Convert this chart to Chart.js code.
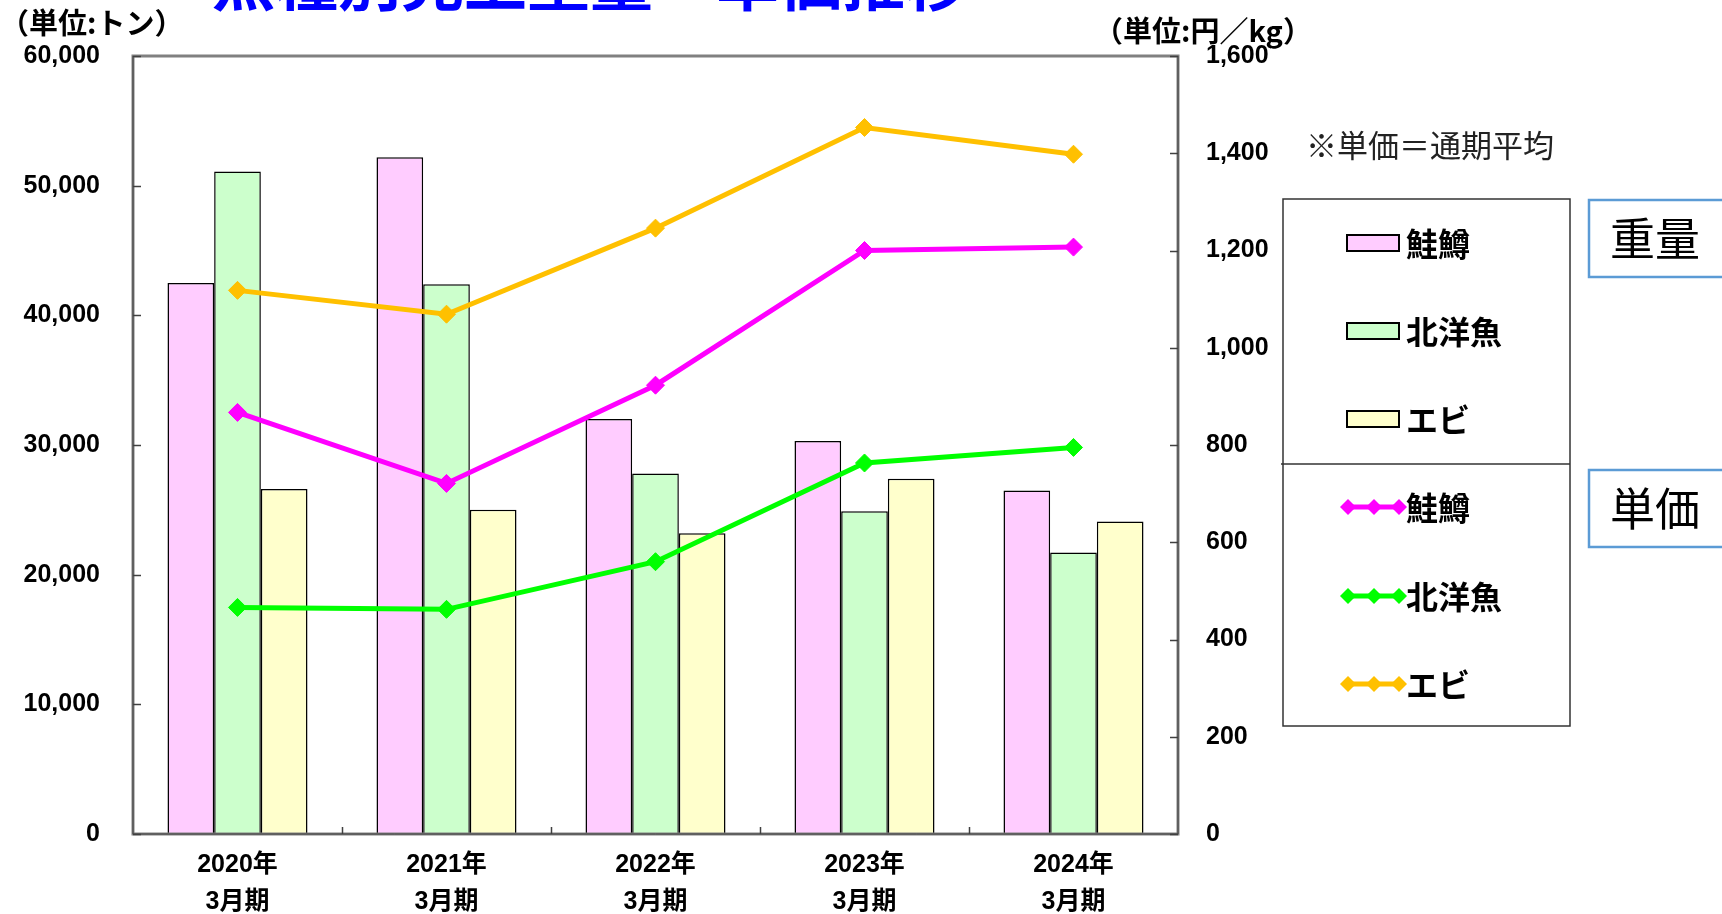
<!DOCTYPE html>
<html>
<head>
<meta charset="utf-8">
<script src="https://cdn.jsdelivr.net/npm/chart.js@4"></script>
<style>
html,body{margin:0;padding:0;background:#fff;}
#wrap{position:relative;width:1722px;height:914px;overflow:hidden;}
canvas{display:block;}
</style>
</head>
<body>
<div id="wrap"><canvas id="c" width="1722" height="914"></canvas></div>
<script>
// ---- data ----
const categories = [['2020年','3月期'],['2021年','3月期'],['2022年','3月期'],['2023年','3月期'],['2024年','3月期']];
const seriesNames = ['鮭鱒','北洋魚','エビ'];
const weightSalmon = [42500, 52200, 32000, 30300, 26500];
const weightNorth  = [51100, 42400, 27800, 24900, 21700];
const weightShrimp = [26600, 25000, 23200, 27400, 24100];
const priceSalmon = [867, 721, 923, 1200, 1207];
const priceNorth  = [466, 462, 560, 763, 795];
const priceShrimp = [1118, 1069, 1246, 1453, 1398];
const weightTicks = [0, 10000, 20000, 30000, 40000, 50000, 60000];
const priceTicks = [0, 200, 400, 600, 800, 1000, 1200, 1400, 1600];
const titleText = '魚種別売上重量・単価推移';
const leftUnit = '（単位:トン）';
const rightUnit = '（単位:円／kg）';
const noteText = '※単価＝通期平均';
const groupLabels = ['重量', '単価'];

const barColors = ['#FFCCFF', '#CCFFCC', '#FFFFCC'];
const lineColors = ['#FF00FF', '#00FF00', '#FFC000'];
const NUMFONT = '"Liberation Sans", "Noto Sans CJK JP", sans-serif';
const JPFONT = '"Noto Sans CJK JP", sans-serif';

const weights = [weightSalmon, weightNorth, weightShrimp];
const prices = [priceSalmon, priceNorth, priceShrimp];

const datasets = [];
weights.forEach((w, i) => datasets.push({
  type: 'bar', label: seriesNames[i], data: w, yAxisID: 'y',
  backgroundColor: barColors[i], borderColor: '#000', borderWidth: 1.5,
  barPercentage: 1.0, categoryPercentage: 0.67, order: 2
}));
prices.forEach((p, i) => datasets.push({
  type: 'line', label: seriesNames[i], data: p, yAxisID: 'y1',
  borderColor: lineColors[i], backgroundColor: lineColors[i], borderWidth: 5,
  pointStyle: 'rectRot', pointRadius: 9, pointBorderWidth: 1,
  pointBackgroundColor: lineColors[i], pointBorderColor: lineColors[i],
  tension: 0, fill: false, order: 1
}));

const fmt = v => Number(v).toLocaleString('en-US');

const decor = {
  id: 'decor',
  afterDatasetsDraw(chart) {
    const ctx = chart.ctx, a = chart.chartArea;
    const y = chart.scales.y, y1 = chart.scales.y1;
    ctx.save();
    ctx.strokeStyle = '#808080'; ctx.lineWidth = 3;
    ctx.strokeRect(a.left, a.top, a.right - a.left, a.bottom - a.top);
    ctx.strokeStyle = '#404040'; ctx.lineWidth = 1;
    ctx.beginPath();
    ctx.moveTo(a.left, a.top); ctx.lineTo(a.left, a.bottom); ctx.lineTo(a.right, a.bottom); ctx.lineTo(a.right, a.top);
    ctx.stroke();
    ctx.strokeStyle = '#404040'; ctx.lineWidth = 1.5;
    ctx.beginPath();
    weightTicks.forEach(v => { const py = Math.round(y.getPixelForValue(v)) + 0.5; ctx.moveTo(a.left, py); ctx.lineTo(a.left + 8, py); });
    priceTicks.forEach(v => { const py = Math.round(y1.getPixelForValue(v)) + 0.5; ctx.moveTo(a.right, py); ctx.lineTo(a.right - 8, py); });
    const n = categories.length, cw = (a.right - a.left) / n;
    for (let i = 1; i < n; i++) { const px = Math.round(a.left + i * cw) + 0.5; ctx.moveTo(px, a.bottom); ctx.lineTo(px, a.bottom - 7); }
    ctx.stroke();
    ctx.restore();
  },
  afterDraw(chart) {
    const ctx = chart.ctx;
    ctx.save();
    ctx.fillStyle = '#0000FF';
    ctx.font = 'bold 63px ' + JPFONT;
    ctx.textBaseline = 'alphabetic'; ctx.textAlign = 'left';
    ctx.fillText(titleText, 212, 5);
    ctx.fillStyle = '#000';
    ctx.font = 'bold 29px ' + JPFONT;
    ctx.textBaseline = 'middle';
    ctx.fillText(leftUnit, 0, 23);
    ctx.fillText(rightUnit, 1094, 31);
    ctx.font = '31px ' + JPFONT;
    ctx.fillStyle = '#222';
    ctx.fillText(noteText, 1306, 145);
    const L = 1283, R = 1570, T = 199, B = 726, D = 464;
    ctx.strokeStyle = '#333'; ctx.lineWidth = 1.5;
    ctx.strokeRect(L, T, R - L, B - T);
    ctx.beginPath(); ctx.moveTo(L - 2, D); ctx.lineTo(R, D); ctx.stroke();
    const ds = chart.data.datasets;
    const rowsY = [243, 331, 419, 507, 596, 684];
    ctx.font = 'bold 32px ' + JPFONT;
    ctx.textBaseline = 'middle';
    ds.forEach((d, i) => {
      const cy = rowsY[i];
      if (d.type === 'bar') {
        ctx.fillStyle = d.backgroundColor; ctx.fillRect(1347, cy - 8, 52, 16);
        ctx.strokeStyle = '#000'; ctx.lineWidth = 2; ctx.strokeRect(1347, cy - 8, 52, 16);
      } else {
        ctx.strokeStyle = d.borderColor; ctx.lineWidth = 5;
        ctx.beginPath(); ctx.moveTo(1347, cy); ctx.lineTo(1400, cy); ctx.stroke();
        ctx.fillStyle = d.borderColor;
        [1348, 1374, 1399].forEach(px => {
          ctx.beginPath(); ctx.moveTo(px - 8, cy); ctx.lineTo(px, cy - 8); ctx.lineTo(px + 8, cy); ctx.lineTo(px, cy + 8); ctx.closePath(); ctx.fill();
        });
      }
      ctx.fillStyle = '#000';
      ctx.fillText(d.label, 1406, cy + 1);
    });
    ctx.strokeStyle = '#5B9BD5'; ctx.lineWidth = 2.5;
    ctx.strokeRect(1589, 200, 160, 77);
    ctx.strokeRect(1589, 470, 160, 77);
    ctx.fillStyle = '#000';
    ctx.font = '400 45px ' + JPFONT;
    ctx.fillText(groupLabels[0], 1610, 239);
    ctx.fillText(groupLabels[1], 1610, 509);
    ctx.restore();
  }
};

new Chart(document.getElementById('c'), {
  data: { labels: categories, datasets },
  options: {
    responsive: false, animation: false,
    layout: { padding: { left: 0, right: 0, top: 56, bottom: 0 } },
    plugins: { legend: { display: false }, title: { display: false }, tooltip: { enabled: false } },
    scales: {
      x: {
        grid: { display: false, drawTicks: false }, border: { display: false },
        ticks: { color: '#000', padding: 13, font: { family: NUMFONT, size: 25, weight: 'bold', lineHeight: '37px' }, maxRotation: 0 },
        afterFit(s) { s.height = 80; }
      },
      y: {
        position: 'left', min: 0, max: 60000,
        grid: { display: false, drawTicks: false }, border: { display: false },
        afterBuildTicks(s) { s.ticks = weightTicks.map(v => ({ value: v })); },
        ticks: { color: '#000', padding: 33, callback: v => fmt(v), font: { family: NUMFONT, size: 25, weight: 'bold' } },
        afterFit(s) { s.width = 133; }
      },
      y1: {
        position: 'right', min: 0, max: 1600,
        grid: { display: false, drawTicks: false }, border: { display: false },
        afterBuildTicks(s) { s.ticks = priceTicks.map(v => ({ value: v })); },
        ticks: { color: '#000', padding: 28, callback: v => fmt(v), font: { family: NUMFONT, size: 25, weight: 'bold' } },
        afterFit(s) { s.width = 544; }
      }
    }
  },
  plugins: [decor]
});
</script>
</body>
</html>
